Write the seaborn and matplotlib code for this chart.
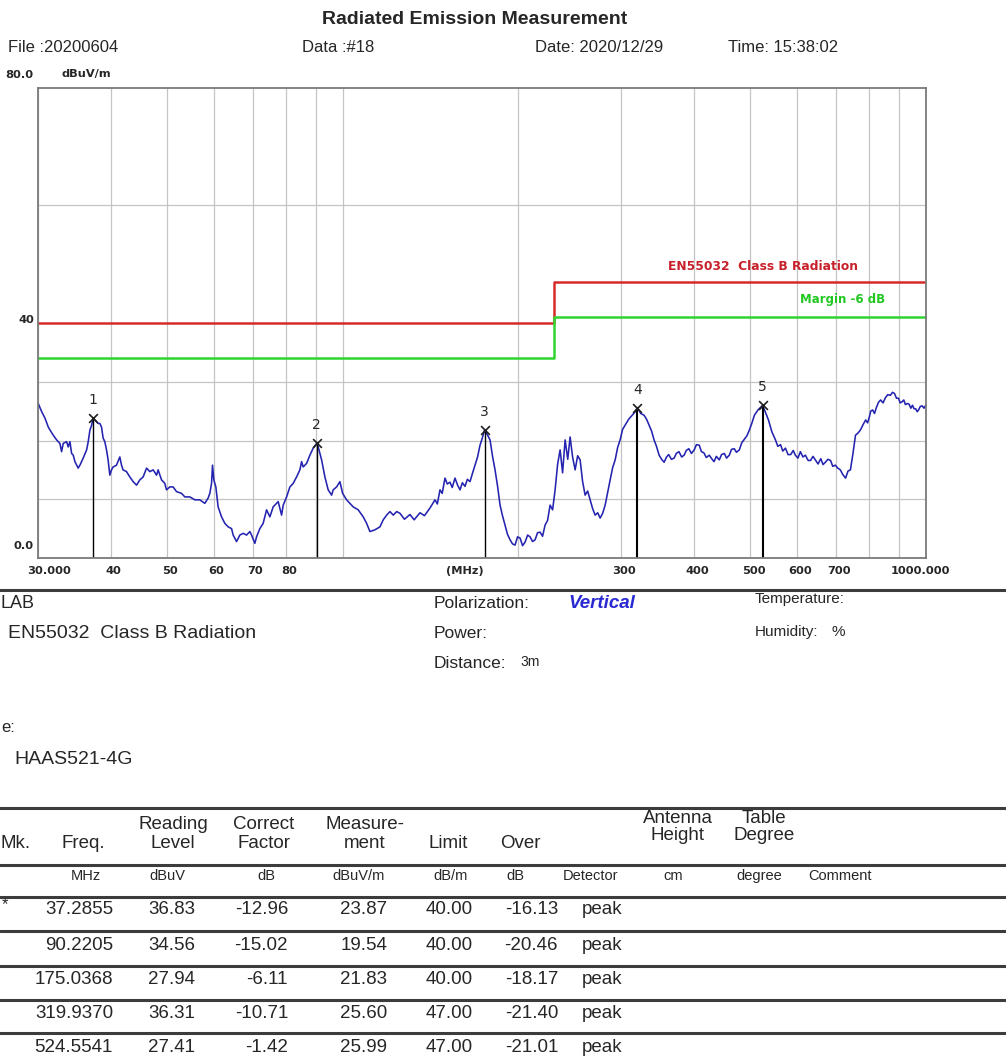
import matplotlib
matplotlib.use("Agg")
import matplotlib.pyplot as plt
import matplotlib.transforms as mtransforms
from matplotlib.lines import Line2D
from matplotlib.ticker import NullFormatter
import pandas as pd
import seaborn as sns

# ---------------- spectrum trace (MHz, dBuV/m) ----------------
trace_freq = [
    30.0, 30.12, 30.44, 30.84, 31.24, 31.45, 31.86, 32.29, 32.71, 32.93,
    33.14, 33.59, 33.80, 34.03, 34.26, 34.48, 34.71, 35.16, 35.40, 35.86,
    36.35, 36.58, 36.83, 37.08, 37.2855, 37.54, 37.80, 38.04, 38.30, 38.55,
    38.80, 39.06, 39.32, 39.57, 39.84, 40.10, 40.36, 40.90, 41.44, 41.72,
    41.98, 42.55, 43.11, 43.68, 44.27, 44.85, 45.44, 46.06, 46.66, 47.27,
    47.91, 48.21, 48.86, 49.50, 49.83, 50.49, 51.15, 51.84, 52.88, 53.57,
    54.64, 55.73, 56.84, 57.97, 58.73, 59.13, 59.53, 59.76, 60.07, 60.55,
    61.10, 61.93, 62.74, 63.57, 64.43, 64.84, 65.71, 66.57, 67.45, 68.36,
    69.25, 69.72, 70.63, 71.11, 72.04, 72.99, 73.98, 74.95, 75.93, 76.96,
    77.45, 78.50, 79.00, 80.07, 81.12, 82.18, 83.29, 84.38, 84.95, 85.49,
    86.65, 87.78, 88.93, 90.2205, 90.71, 91.94, 93.14, 94.36, 95.64, 96.25,
    97.55, 98.83, 99.89, 101.48, 102.81, 104.16, 106.24, 108.36, 109.82, 111.27,
    113.49, 115.75, 117.27, 118.86, 120.42, 122.0, 123.67, 125.29,
    127.5, 130.33, 132.5, 135.57, 138.0, 141.03, 143.85, 145.2, 146.72, 148.0,
    149.66, 151.0, 152.64, 154.0, 155.69, 157.3, 158.80, 160.3, 161.97, 163.5,
    165.20, 166.8, 168.50, 170.2, 171.86, 173.4, 175.0368, 176.9, 178.79, 180.5,
    182.36, 184.2, 186.0, 187.8, 189.71, 191.6, 193.5, 195.4, 197.36, 199.3,
    201.3, 203.3, 205.32, 207.4, 209.42, 211.5, 213.6, 215.7, 217.86, 220.0,
    222.21, 224.4, 226.65, 228.9, 231.17, 233.5, 235.79, 238.1, 240.49, 243.0,
    245.29, 247.7, 250.19, 252.7, 255.18, 257.7, 260.27, 262.9, 265.47, 268.1,
    270.77, 273.5, 276.17, 278.9, 281.68, 284.5, 287.30, 290.2, 293.04, 295.9,
    298.82, 301.8, 304.79, 309.0, 313.31, 316.6, 319.937, 324.2, 328.5, 331.8,
    335.1, 338.4, 341.7, 345.0, 348.6, 352.0, 355.5, 359.0, 362.0, 366.0,
    369.9, 373.0, 377.0, 381.0, 384.8, 388.0, 392.0, 396.0, 400.4, 404.0,
    408.4, 412.0, 416.0, 420.0, 424.9, 429.0, 433.0, 437.0, 442.1, 446.0,
    451.0, 455.0, 459.9, 464.0, 469.0, 473.0, 478.5, 483.0, 488.0, 493.0,
    497.9, 503.0, 507.8, 515.0, 524.5541, 530.0, 536.8, 544.0, 551.9, 557.0,
    563.0, 568.0, 574.0, 580.0, 586.0, 592.0, 597.0, 603.0, 609.0, 615.0,
    621.0, 628.0, 634.0, 640.0, 646.0, 653.0, 660.0, 666.0, 672.0, 679.0,
    686.0, 692.0, 699.0, 706.0, 713.0, 720.0, 728.0, 735.0, 742.0, 750.0,
    757.0, 765.0, 772.0, 780.0, 788.0, 794.0, 799.0, 804.0, 810.0, 816.0,
    822.0, 829.0, 836.0, 844.0, 852.0, 860.0, 869.0, 876.0, 883.0, 890.0,
    897.0, 903.0, 910.0, 916.0, 922.0, 929.0, 935.0, 942.0, 948.0, 954.0,
    960.0, 966.0, 971.0, 978.0, 985.0, 992.0, 999.0,
]
trace_level = [
    26.4, 26.0, 24.9, 23.8, 22.3, 21.8, 20.9, 20.1, 19.5, 18.1,
    19.5, 19.8, 18.9, 19.8, 17.8, 17.5, 16.4, 15.3, 15.8, 17.0,
    18.4, 19.8, 21.8, 22.6, 23.87, 23.5, 23.2, 22.9, 22.9, 22.3,
    20.4, 19.8, 18.4, 16.7, 14.1, 15.0, 15.5, 15.8, 17.2, 15.8,
    15.0, 14.7, 13.8, 13.0, 12.4, 13.3, 13.8, 15.3, 14.7, 15.0,
    14.1, 15.0, 13.3, 12.7, 11.6, 12.1, 12.1, 11.3, 11.0, 10.4,
    10.4, 9.9, 9.9, 9.3, 10.2, 11.0, 12.7, 15.8, 13.3, 12.1,
    8.7, 7.0, 5.9, 5.3, 5.0, 3.9, 2.8, 3.9, 4.2, 3.9,
    4.5, 3.9, 2.5, 3.6, 5.0, 5.9, 8.2, 7.0, 8.7, 9.3,
    9.6, 7.3, 9.0, 10.4, 12.1, 12.7, 13.8, 15.0, 16.4, 15.5,
    16.1, 17.5, 18.7, 19.54, 18.9, 16.7, 13.8, 11.6, 10.7, 11.6,
    12.1, 13.0, 11.0, 9.9, 9.3, 8.7, 8.2, 7.0, 5.9, 4.5,
    4.8, 5.3, 6.5, 7.3, 7.9, 7.3, 7.9, 7.6,
    6.6, 7.4, 6.5, 7.7, 7.2, 8.5, 9.9, 9.2, 11.6, 11.0,
    13.6, 12.6, 12.9, 12.0, 13.6, 12.4, 11.6, 12.8, 12.2, 13.4,
    13.0, 14.4, 15.8, 17.2, 19.2, 20.4, 21.83, 21.0, 20.1, 17.4,
    15.0, 12.2, 9.0, 7.2, 5.6, 4.0, 3.1, 2.4, 2.2, 3.6,
    3.4, 2.1, 2.7, 3.9, 3.6, 2.8, 3.1, 4.3, 4.4, 3.7,
    5.6, 6.4, 9.0, 8.2, 11.6, 16.0, 18.4, 14.5, 20.1, 16.8,
    20.6, 17.2, 15.0, 17.4, 16.7, 13.0, 10.7, 11.4, 9.9, 8.4,
    7.3, 7.7, 6.8, 7.6, 9.0, 11.2, 13.3, 15.4, 16.7, 18.8,
    20.1, 21.9, 22.6, 23.6, 24.3, 24.8, 25.60, 24.6, 24.3, 23.6,
    22.6, 21.6, 20.1, 19.0, 17.5, 16.8, 16.3, 17.2, 17.6, 16.8,
    17.0, 17.8, 18.1, 17.2, 17.5, 18.3, 18.6, 17.8, 18.4, 19.3,
    19.2, 18.1, 17.9, 17.1, 17.5, 16.9, 16.4, 17.3, 16.7, 17.6,
    17.8, 17.0, 17.5, 18.5, 18.6, 18.0, 18.4, 19.6, 20.2, 20.8,
    21.8, 23.0, 24.3, 25.2, 25.99, 24.9, 23.5, 21.5, 20.1, 19.0,
    19.3, 18.2, 18.7, 17.6, 17.6, 18.3, 17.5, 17.0, 18.1, 17.2,
    17.5, 16.6, 16.6, 17.3, 16.7, 16.0, 16.9, 15.9, 16.3, 16.8,
    16.6, 15.6, 15.8, 15.3, 15.0, 14.2, 13.6, 14.8, 15.0, 18.0,
    20.9, 21.3, 21.8, 22.7, 23.5, 23.0, 23.9, 25.0, 25.2, 24.6,
    25.6, 26.5, 26.9, 26.4, 27.3, 27.8, 27.7, 28.2, 28.0, 27.2,
    27.2, 26.4, 26.6, 26.9, 26.1, 26.3, 26.2, 25.5, 26.0, 25.4,
    25.4, 24.9, 25.2, 25.8, 25.9, 25.5, 26.0,
]

# ---------------- limit line (EN55032 Class B, 3 m) ----------------
limit_freq = [30.0, 230.0, 1000.0]
limit_level = [40.0, 47.0, 47.0]
margin_db = 6.0

# ---------------- x axis ticks ----------------
grid_freq = [40, 50, 60, 70, 80, 90, 100, 200, 300, 400, 500, 600, 700, 800, 900]
tick_freq = [30, 40, 50, 60, 70, 80, 300, 400, 500, 600, 700, 1000]
tick_text = ["30.000", "40", "50", "60", "70", "80", "300", "400", "500",
             "600", "700", "1000.000"]

# ---------------- marker table ----------------
mk_no = [1, 2, 3, 4, 5]
mk_flag = ["*", "", "", "", ""]
mk_freq = [37.2855, 90.2205, 175.0368, 319.9370, 524.5541]
mk_reading = [36.83, 34.56, 27.94, 36.31, 27.41]
mk_correct = [-12.96, -15.02, -6.11, -10.71, -1.42]
mk_measure = [23.87, 19.54, 21.83, 25.60, 25.99]
mk_limit = [40.00, 40.00, 40.00, 47.00, 47.00]
mk_over = [-16.13, -20.46, -18.17, -21.40, -21.01]
mk_detector = ["peak", "peak", "peak", "peak", "peak"]

sns.set_style("white")
plt.rcParams["font.family"] = ["Liberation Sans", "DejaVu Sans"]

W, H = 1006, 1061
fig = plt.figure(figsize=(W / 100, H / 100), dpi=100)
fig.patch.set_facecolor("white")


def fx(x):
    return x / W


def fy(y):
    return 1 - y / H


def ftext(x, y, s, **kw):
    kw.setdefault("va", "center")
    kw.setdefault("fontsize", 12.5)
    return fig.text(fx(x), fy(y), s, **kw)


ax = fig.add_axes([fx(38), fy(558), fx(926) - fx(38), fy(88) - fy(558)])
ax.set_xscale("log")
ax.set_xlim(30, 1000)
ax.set_ylim(0, 80)

# ticks and grid
ax.set_xticks(tick_freq)
ax.set_xticklabels(tick_text)
ax.set_xticks(grid_freq, minor=True)
ax.xaxis.set_minor_formatter(NullFormatter())
ax.set_yticks([0, 40, 80])
ax.set_yticklabels(["0.0", "40", "80.0"])
ax.set_yticks([10, 20, 30, 40, 60], minor=True)
ax.grid(False)
ax.grid(which="minor", axis="both", color="#c4c4c4", lw=0.9)
ax.grid(which="major", axis="x", color="#c4c4c4", lw=0.9)
ax.set_axisbelow(True)

ax.tick_params(which="both", length=0)
ax.tick_params(axis="x", pad=6)
ax.tick_params(axis="y", pad=3)
for lab in ax.get_xticklabels() + ax.get_yticklabels():
    lab.set_fontfamily("DejaVu Sans")
    lab.set_fontweight("bold")
    lab.set_fontsize(8.2)

x_shift = {"30.000": 11, "1000.000": -6}
for lab in ax.get_xticklabels():
    dx = x_shift.get(lab.get_text(), 3)
    lab.set_transform(lab.get_transform() +
                      mtransforms.ScaledTranslation(dx / 100, 0, fig.dpi_scale_trans))
y_shift = {"0.0": 13, "40": 4, "80.0": 14}
for lab in ax.get_yticklabels():
    dy = y_shift.get(lab.get_text(), 0)
    lab.set_transform(lab.get_transform() +
                      mtransforms.ScaledTranslation(0, dy / 100, fig.dpi_scale_trans))

for sp in ax.spines.values():
    sp.set_color("#7a7a7a")
    sp.set_linewidth(1.3)

# limit and margin lines
lim_df = pd.DataFrame({"freq": limit_freq, "limit": limit_level})
lim_df["margin"] = lim_df["limit"] - margin_db
sns.lineplot(data=lim_df, x="freq", y="limit", ax=ax, color="#d62a2a", lw=1.8,
             drawstyle="steps-post", estimator=None)
sns.lineplot(data=lim_df, x="freq", y="margin", ax=ax, color="#2fd42f", lw=1.8,
             drawstyle="steps-post", estimator=None)

# measured trace
tr_df = pd.DataFrame({"freq": trace_freq, "level": trace_level})
sns.lineplot(data=tr_df, x="freq", y="level", ax=ax, color="#2424b0", lw=1.15,
             estimator=None, sort=False)

# peak markers
ax.vlines(mk_freq, 0, mk_measure, colors="black", lw=[1.0, 1.0, 1.0, 1.5, 1.5])
sns.scatterplot(x=mk_freq, y=mk_measure, ax=ax, marker="x", color="#202020",
                s=40, linewidth=1.2, zorder=5)
for n, f, v in zip(mk_no, mk_freq, mk_measure):
    ax.annotate(str(n), (f, v), xytext=(0, 13), textcoords="offset points",
                ha="center", va="center", fontsize=10, fontfamily="DejaVu Sans")
ax.set_xlabel("")
ax.set_ylabel("")

# limit captions inside the plot
ftext(668, 266, "EN55032  Class B Radiation", color="#c8202a", fontsize=8.8,
      fontfamily="DejaVu Sans", fontweight="bold")
ftext(800, 300, "Margin -6 dB", color="#22c822", fontsize=8.5,
      fontfamily="DejaVu Sans", fontweight="bold")

# axis captions
ftext(62, 74, "dBuV/m", fontsize=8.2, fontfamily="DejaVu Sans", fontweight="bold")
ftext(465, 571, "(MHz)", fontsize=8.2, fontfamily="DejaVu Sans", fontweight="bold",
      ha="center")

# page header
ftext(475, 20, "Radiated Emission Measurement", ha="center", fontsize=14,
      fontweight="bold")
ftext(8, 47, "File :20200604", fontsize=12)
ftext(302, 47, "Data :#18", fontsize=12)
ftext(535, 47, "Date: 2020/12/29", fontsize=12)
ftext(728, 47, "Time: 15:38:02", fontsize=12)


def hline(y, lw=2.2, color="#3c3c3c"):
    fig.add_artist(Line2D([0, 1], [fy(y), fy(y)], transform=fig.transFigure,
                          color=color, lw=lw))


# test information block
hline(590)
ftext(1, 603, "LAB", fontsize=13)
ftext(8, 633, "EN55032  Class B Radiation", fontsize=14)
ftext(1, 727, "e:", fontsize=12)
ftext(14, 760, "HAAS521-4G", fontsize=14)
ftext(434, 604, "Polarization:", fontsize=12.5)
ftext(568, 604, "Vertical", fontsize=13.5, fontweight="bold", fontstyle="italic",
      color="#2a2ad2")
ftext(434, 634, "Power:", fontsize=12.5)
ftext(434, 664, "Distance:", fontsize=12.5)
ftext(520, 662, "3m", fontsize=10)
ftext(755, 599, "Temperature:", fontsize=11)
ftext(755, 632, "Humidity:", fontsize=11)
ftext(832, 632, "%", fontsize=11)

# result table
for y in [808, 865, 897, 931, 966, 1000, 1033]:
    hline(y)

ftext(1, 843, "Mk.", fontsize=13.5)
ftext(83, 843, "Freq.", fontsize=13.5, ha="center")
ftext(173, 834, "Reading\nLevel", fontsize=13.5, ha="center", linespacing=1.1)
ftext(264, 834, "Correct\nFactor", fontsize=13.5, ha="center", linespacing=1.1)
ftext(365, 834, "Measure-\nment", fontsize=13.5, ha="center", linespacing=1.1)
ftext(448, 843, "Limit", fontsize=13.5, ha="center")
ftext(500, 843, "Over", fontsize=13.5)
ftext(678, 827, "Antenna\nHeight", fontsize=13.5, ha="center", linespacing=1.05)
ftext(764, 827, "Table\nDegree", fontsize=13.5, ha="center", linespacing=1.05)

unit_cols = [(86, "MHz"), (167, "dBuV"), (266, "dB"), (359, "dBuV/m"),
             (451, "dB/m"), (515, "dB"), (590, "Detector"), (673, "cm"),
             (759, "degree"), (840, "Comment")]
for x, s in unit_cols:
    ftext(x, 876, s, fontsize=10.5, ha="center")

row_y = [910, 945, 980, 1013, 1047]
for i, y in enumerate(row_y):
    if mk_flag[i]:
        ftext(2, y - 5, mk_flag[i], fontsize=12)
    ftext(113, y, f"{mk_freq[i]:.4f}", fontsize=13.5, ha="right")
    ftext(195, y, f"{mk_reading[i]:.2f}", fontsize=13.5, ha="right")
    ftext(288, y, f"{mk_correct[i]:.2f}", fontsize=13.5, ha="right")
    ftext(387, y, f"{mk_measure[i]:.2f}", fontsize=13.5, ha="right")
    ftext(473, y, f"{mk_limit[i]:.2f}", fontsize=13.5, ha="right")
    ftext(558, y, f"{mk_over[i]:.2f}", fontsize=13.5, ha="right")
    ftext(582, y, mk_detector[i], fontsize=13.5)

fig.savefig("out.png", dpi=100, facecolor="white")
